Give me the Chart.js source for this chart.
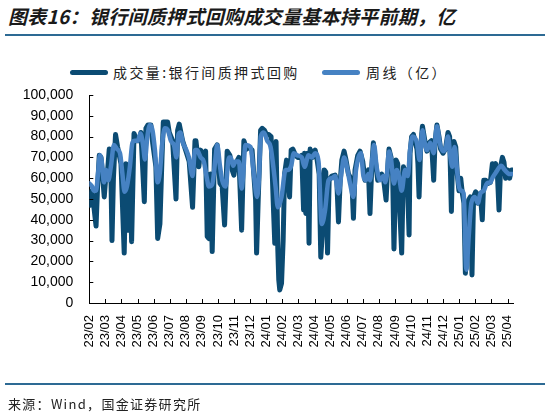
<!DOCTYPE html>
<html>
<head>
<meta charset="utf-8">
<script src="https://cdn.jsdelivr.net/npm/chart.js@4/dist/chart.umd.min.js"></script>
<style>
  html, body { margin: 0; padding: 0; background: #fff; }
  #wrap { position: relative; width: 547px; height: 417px; overflow: hidden; background: #fff; }
  #c { position: absolute; left: 0; top: 0; }
  .title { position: absolute; left: 8px; top: 3px; font-family: "Noto Sans CJK SC", sans-serif; font-weight: 700; font-style: italic; font-size: 19px; letter-spacing: 0.3px; color: #1a1a1a; white-space: nowrap; line-height: 26px; }
  .rule { position: absolute; left: 5px; width: 540px; height: 2px; background: #2d6a94; }
  .legend { position: absolute; top: 62px; left: 0; height: 20px; font-family: "Noto Sans CJK SC", sans-serif; font-size: 14px; color: #222; white-space: nowrap; }
  .lg-item { position: absolute; top: 0; height: 20px; line-height: 20px; }
  .lg-line { position: absolute; top: 8px; width: 38px; height: 5px; border-radius: 3px; }
  .lg-text { position: absolute; top: 0; letter-spacing: 2.4px; }
  .source { position: absolute; left: 8px; top: 395px; font-family: "Noto Sans CJK SC", sans-serif; font-size: 13px; letter-spacing: 1.3px; color: #222; white-space: nowrap; line-height: 18px; }
</style>
</head>
<body>
<div id="wrap">
  <div class="title">图表16：银行间质押式回购成交量基本持平前期，亿</div>
  <div class="rule" style="top:34px"></div>
  <div class="legend">
    <div class="lg-line" style="left:70px;background:#0b4b73"></div>
    <div class="lg-text" style="left:113px">成交量:银行间质押式回购</div>
    <div class="lg-line" style="left:322px;background:#4682c3"></div>
    <div class="lg-text" style="left:366px">周线（亿）</div>
  </div>
  <canvas id="c" width="547" height="417"></canvas>
  <div class="rule" style="top:383px"></div>
  <div class="source">来源：Wind，国金证券研究所</div>
</div>
<script>
// Month tick labels (month index 0 = 2023/02)
const monthLabels = ['23/02','23/03','23/04','23/05','23/06','23/07','23/08','23/09','23/10','23/11','23/12','24/01','24/02','24/03','24/04','24/05','24/06','24/07','24/08','24/09','24/10','24/11','24/12','25/01','25/02','25/03','25/04'];

// Daily turnover: position in months since 2023/02 start, value in 亿
const volX = [
  0.00,0.07,0.15,0.23,0.42,0.51,0.62,0.73,0.93,1.04,
  1.14,1.24,1.32,1.41,1.50,1.63,1.76,1.97,2.17,2.28,
  2.42,2.53,2.63,2.78,2.96,3.11,3.21,3.42,3.52,3.65,
  3.83,3.94,4.14,4.25,4.39,4.52,4.60,4.87,4.97,5.18,
  5.39,5.49,5.59,5.80,6.01,6.21,6.42,6.57,6.63,6.81,
  6.92,7.12,7.23,7.33,7.43,7.54,7.64,7.79,7.95,8.12,
  8.26,8.41,8.57,8.74,8.88,8.99,9.09,9.30,9.47,9.61,
  9.78,9.92,10.12,10.34,10.40,10.50,10.65,10.75,10.89,11.02,
  11.16,11.30,11.43,11.53,11.61,11.72,11.78,11.84,11.95,12.05,
  12.14,12.26,12.34,12.45,12.55,12.65,12.82,12.96,13.13,13.21,
  13.32,13.38,13.46,13.57,13.66,13.73,13.88,14.04,14.14,14.29,
  14.39,14.50,14.60,14.70,14.81,14.91,15.07,15.28,15.39,15.49,
  15.59,15.70,15.84,15.96,16.11,16.32,16.42,16.52,16.69,16.83,
  17.00,17.14,17.25,17.35,17.45,17.56,17.66,17.76,17.93,18.07,
  18.18,18.32,18.45,18.53,18.63,18.76,18.86,18.94,19.07,19.17,
  19.32,19.42,19.53,19.63,19.75,19.88,19.94,20.04,20.15,20.37,
  20.43,20.50,20.60,20.71,20.86,20.99,21.12,21.27,21.41,21.49,
  21.61,21.74,21.84,21.99,22.14,22.30,22.40,22.51,22.57,22.67,
  22.78,22.88,22.98,23.09,23.19,23.29,23.38,23.48,23.58,23.69,
  23.79,23.89,24.02,24.16,24.31,24.43,24.52,24.64,24.78,24.93,
  25.06,25.16,25.26,25.37,25.47,25.57,25.68,25.78,25.88,25.99,
  26.13,26.24,26.34
];
const volY = [
  52000,47000,54000,50000,37000,55000,71000,70000,51000,62000,
  64000,74000,73000,30000,60000,81000,75000,67000,24000,67000,
  35000,64000,29500,81500,78000,78000,82000,48700,84000,85600,
  85600,77000,65500,31000,38000,70000,87000,87000,82000,78000,
  50000,83000,86000,78000,73000,68000,46000,78000,78000,65500,
  73500,70000,73000,32000,31000,62000,24700,74000,76000,57500,
  56000,37500,73000,71000,64000,61500,67000,70000,35000,78000,
  74000,75000,73500,49500,24000,49500,83000,84000,83000,81000,
  81000,80000,49500,28700,77600,25500,11000,6300,9500,30000,
  62000,68700,62000,51000,73500,74000,71000,70000,70000,71000,
  44700,72000,43000,72000,28700,74000,70000,73500,70000,62000,
  22000,35000,64000,63000,24000,59000,61000,61500,58000,39000,
  57500,68700,73000,68700,62000,59000,40700,64000,71000,73000,
  68000,59000,61500,64000,43000,65500,77000,70000,59000,60000,
  62000,58000,49500,62000,74000,70000,61000,26000,68700,67000,
  41500,24000,65500,61000,64000,32700,72000,80000,81000,74000,
  67000,51000,75000,85000,78000,73000,77000,78000,59000,77000,
  85600,80000,74000,72000,74000,82000,80000,44000,65500,77600,
  75000,61500,54000,60000,52700,48000,14300,30000,49500,51000,
  13500,51000,53500,48000,52700,40000,59000,59000,57500,58000,
  67000,66000,67000,62000,44700,65500,70000,67700,60000,64000,
  60000,64000,64000
];

// Weekly line: position in months, value in 亿
const wkX = [
  0.00,0.17,0.29,0.42,0.54,0.66,0.79,0.91,1.04,1.18,
  1.35,1.53,1.72,1.91,2.06,2.19,2.34,2.53,2.68,2.84,
  3.02,3.18,3.34,3.46,3.61,3.77,3.93,4.08,4.25,4.39,
  4.55,4.70,4.89,5.07,5.26,5.42,5.54,5.66,5.82,6.01,
  6.19,6.42,6.57,6.69,6.92,7.12,7.31,7.43,7.64,7.85,
  7.95,8.12,8.26,8.47,8.68,8.80,8.94,9.09,9.30,9.47,
  9.55,9.71,10.02,10.23,10.43,10.54,10.66,10.85,11.06,11.27,
  11.58,11.72,11.95,12.20,12.36,12.55,12.71,12.92,13.21,13.38,
  13.63,13.83,14.04,14.25,14.45,14.66,14.87,15.07,15.28,15.49,
  15.70,15.84,16.01,16.21,16.42,16.58,16.73,16.89,17.04,17.19,
  17.35,17.45,17.60,17.70,17.87,18.07,18.29,18.39,18.49,18.63,
  18.76,18.94,19.11,19.25,19.42,19.63,19.80,19.94,20.09,20.37,
  20.53,20.71,20.85,20.99,21.20,21.41,21.61,21.78,21.99,22.16,
  22.30,22.45,22.57,22.71,22.86,22.98,23.13,23.27,23.44,23.60,
  23.75,23.96,24.16,24.31,24.52,24.72,24.93,25.09,25.30,25.61,
  25.82,26.13,26.34
];
const wkY = [
  57500,56000,54000,54000,62000,71000,67000,58000,64000,59000,
  66000,76000,74000,72000,62000,53500,56000,66000,77000,78000,
  78000,81500,76000,69000,80000,85600,83000,73500,58000,63000,
  78000,84000,83000,78000,76000,70000,81000,82000,77000,74000,
  70000,61000,73500,73500,70000,68000,60000,56000,57000,70000,
  76000,66000,59000,56000,70000,70000,66000,68000,68000,55000,
  60000,76000,75000,62000,51000,59000,80000,82000,78000,75000,
  56000,46000,51000,64000,64000,66000,72000,71000,70000,65500,
  71000,70000,72000,68000,38000,44700,59000,60000,61000,52700,
  64000,70000,65500,57500,51000,64000,70000,72000,61000,59000,
  62000,59000,70000,76000,65000,59000,61000,58000,61000,72800,
  69000,57500,64000,61000,54000,64000,61000,73500,80000,77000,
  68700,83000,77000,73500,77000,72000,85000,77000,73000,74500,
  80000,70000,65500,75000,64000,56000,54000,52700,16000,33500,
  48000,51000,48000,52700,54000,57500,58000,60500,63000,66000,
  64000,62000,62000
];

const yTicksMax = 100000;
const yTickStep = 10000;

const inwardTicks = {
  id: 'inwardTicks',
  afterDraw(chart) {
    const { ctx, scales: { x, y } } = chart;
    ctx.save();
    ctx.strokeStyle = '#000';
    ctx.lineWidth = 1;
    ctx.beginPath();
    x.ticks.forEach(t => {
      const px = Math.round(x.getPixelForValue(t.value)) + 0.5;
      ctx.moveTo(px, x.top);
      ctx.lineTo(px, x.top - 4);
    });
    y.ticks.forEach(t => {
      const py = Math.round(y.getPixelForValue(t.value)) + 0.5;
      ctx.moveTo(y.right, py);
      ctx.lineTo(y.right + 4, py);
    });
    ctx.stroke();
    ctx.restore();
  }
};

Chart.defaults.font.family = '"Liberation Sans", Arial, sans-serif';
Chart.defaults.color = '#000';

new Chart(document.getElementById('c'), {
  type: 'line',
  data: {
    datasets: [
      {
        label: '成交量:银行间质押式回购',
        data: volX.map((x, i) => ({ x, y: volY[i] })),
        borderColor: '#0b4b73',
        backgroundColor: '#0b4b73',
        borderWidth: 5,
        pointRadius: 0,
        tension: 0,
        borderJoinStyle: 'round',
        borderCapStyle: 'round',
        order: 2
      },
      {
        label: '周线（亿）',
        data: wkX.map((x, i) => ({ x, y: wkY[i] })),
        borderColor: '#4682c3',
        backgroundColor: '#4682c3',
        borderWidth: 4.5,
        pointRadius: 0,
        tension: 0.35,
        cubicInterpolationMode: 'monotone',
        borderJoinStyle: 'round',
        borderCapStyle: 'round',
        order: 1
      }
    ]
  },
  options: {
    responsive: false,
    animation: false,
    events: [],
    layout: { padding: { left: 9.3, right: 34, top: 95, bottom: 54 } },
    plugins: { legend: { display: false }, title: { display: false }, tooltip: { enabled: false } },
    scales: {
      x: {
        type: 'linear',
        min: 0,
        max: 26.34,
        afterBuildTicks: (s) => { s.ticks = monthLabels.map((l, i) => ({ value: i })); },
        afterFit: (s) => { s.height = 60; },
        grid: { display: false, drawTicks: false },
        border: { display: true, color: '#000', width: 1 },
        ticks: {
          autoSkip: false,
          minRotation: 90,
          maxRotation: 90,
          padding: 12,
          font: { size: 13 },
          color: '#000',
          callback: (v) => monthLabels[v] ?? ''
        }
      },
      y: {
        min: 0,
        max: yTicksMax,
        afterFit: (s) => { s.width = 80; },
        grid: { display: false, drawTicks: false },
        border: { display: true, color: '#000', width: 1 },
        ticks: {
          stepSize: yTickStep,
          padding: 16,
          font: { size: 14 },
          color: '#000',
          callback: (v) => v.toLocaleString('en-US')
        }
      }
    }
  },
  plugins: [inwardTicks]
});
</script>
</body>
</html>
